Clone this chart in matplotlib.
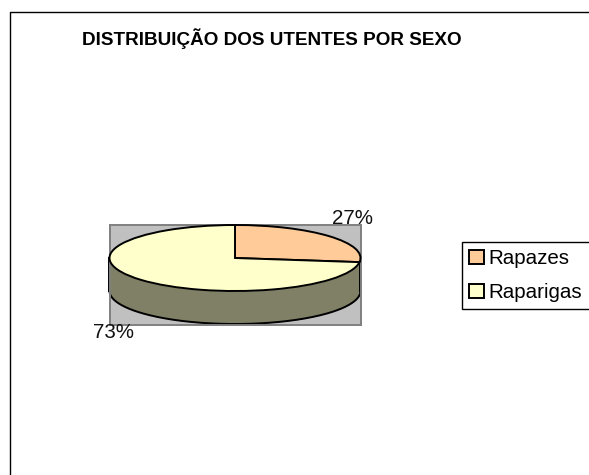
import numpy as np
import matplotlib
matplotlib.use('Agg')
import matplotlib.pyplot as plt
from matplotlib.lines import Line2D

plt.rcParams['font.family'] = ['Liberation Sans', 'DejaVu Sans']

title = "DISTRIBUIÇÃO DOS UTENTES POR SEXO"
labels = ["Rapazes", "Raparigas"]
values = [27, 73]
pct_labels = ["27%", "73%"]
colors = ["#FFCC99", "#FFFFCC"]
side_color = "#808066"
wall_color = "#C0C0C0"

W, H = 589, 475
fig = plt.figure(figsize=(W/100, H/100), dpi=100, facecolor='white')

# chart frame, open on the right and bottom
fig.add_artist(Line2D([9.5/W, 9.5/W, 1], [0, 1-11.5/H, 1-11.5/H], color='black', lw=1.0))

# plot area in pixels: x 110-361, y 225-325
ax = fig.add_axes([110/W, 1-325/H, 251/W, 100/H])
wedges, _ = ax.pie(values, colors=colors, startangle=90, counterclock=False,
                   radius=1, wedgeprops=dict(edgecolor='black', linewidth=1.4, zorder=3, clip_on=False))
ax.set_aspect('auto')
ax.set_xlim(-0.996, 1.004)
ax.set_ylim(-2.03, 1)
ax.set_frame_on(True)
ax.set_facecolor(wall_color)
for s in ax.spines.values():
    s.set_color('#808080')
    s.set_linewidth(1.4)

# side of the disc
depth = 1.0
t = np.linspace(np.pi, 2*np.pi, 200)
ax.fill_between(np.cos(t), np.sin(t), np.sin(t)-depth, color=side_color, lw=0, zorder=1, clip_on=False)
ax.plot(np.cos(t), np.sin(t)-depth, color='black', lw=1.4, zorder=2, clip_on=False)
ax.plot([-1, -1], [0, -depth], color='black', lw=1.4, zorder=2, clip_on=False)
ax.plot([1, 1], [0, -depth], color='black', lw=1.4, zorder=2, clip_on=False)

fig.text(271.5/W, 1-39/H, title, ha='center', va='center', fontsize=13.55, fontweight='bold', color='black')
fig.text(352.5/W, 1-219/H, pct_labels[0], ha='center', va='center', fontsize=14.8, color='#111111')
fig.text(113/W, 1-333/H, pct_labels[1], ha='center', va='center', fontsize=14.8, color='#111111')

leg = fig.legend(wedges, labels, loc='upper left', bbox_to_anchor=(462/W, 1-242/H), borderaxespad=0,
                 fontsize=14.8, frameon=True, fancybox=False, edgecolor='black', framealpha=1,
                 handlelength=0.7, handleheight=0.7, handletextpad=0.25, borderpad=0.35, labelspacing=0.72)
leg.get_frame().set_linewidth(1.0)

fig.savefig('out.png', dpi=100)
